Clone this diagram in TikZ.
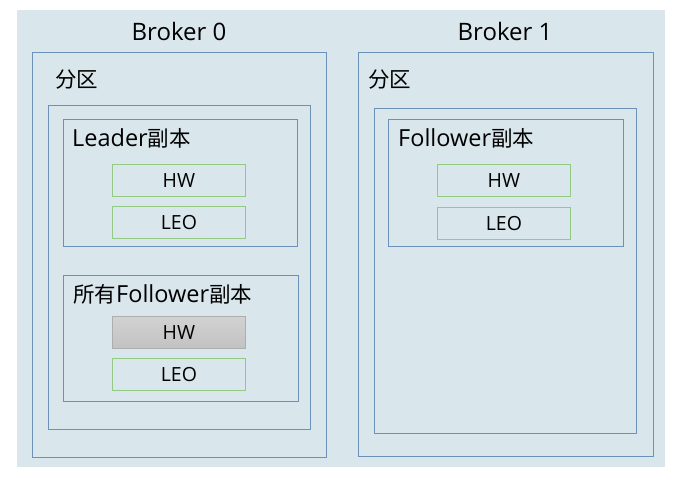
\documentclass[tikz,border=0pt]{standalone}
\usepackage{fontspec}
\newfontfamily\cjk{Noto Sans CJK SC}
\newfontfamily\lat{Open Sans}
\newcommand{\zh}[1]{{\cjk\fontsize{21.5}{21.5}\selectfont #1}}
\definecolor{bgc}{HTML}{D9E6EC}
\definecolor{bluec}{HTML}{6B93B9}
\definecolor{greenc}{HTML}{93C983}
\definecolor{grayt}{HTML}{D2D2D2}
\definecolor{grayb}{HTML}{C2C2C2}
\definecolor{grayl}{HTML}{AEAEAE}
\begin{document}
\begin{tikzpicture}[x=1pt,y=-1pt,
  frame/.style={draw=bluec, line width=0.9pt, inner sep=0pt, anchor=north west},
  field/.style={draw=greenc, line width=0.8pt, inner sep=0pt, anchor=north west,
     minimum width=133pt, minimum height=32pt, font=\lat\fontsize{19.5}{19.5}\selectfont},
  grayfield/.style={field, draw=grayl, top color=grayt, bottom color=grayb},
  title/.style={font=\lat\fontsize{24}{24}\selectfont, inner sep=0pt, anchor=base},
  ltitle/.style={font=\lat\fontsize{23.5}{23.5}\selectfont, inner sep=0pt, anchor=base west}]
\useasboundingbox (0,0) rectangle (694,480);
\fill[white] (0,0) rectangle (694,480);
\node[fill=bgc, inner sep=0pt, anchor=north west, minimum width=648pt, minimum height=457pt] (bg) at (17,10) {};
% Broker 0
\node[frame, minimum width=294pt, minimum height=405pt] (b0) at (32,52) {};
\node[title] (b0t) at (179,40) {Broker 0};
\node[frame, minimum width=262pt, minimum height=324pt] (p0) at (48,105) {};
\node[ltitle] (p0t) at (55,87) {\zh{分区}};
\node[frame, minimum width=234pt, minimum height=127pt] (lead) at (63,119) {};
\node[ltitle] (leadt) at (72,146) {Leader\zh{副本}};
\node[field] (lhw) at (112,164) {HW};
\node[field] (lleo) at (112,206) {LEO};
\node[frame, minimum width=235pt, minimum height=126pt] (allf) at (63,275) {};
\node[ltitle] (allft) at (73,302) {\zh{所有}Follower\zh{副本}};
\node[grayfield] (ahw) at (112,316) {HW};
\node[field] (aleo) at (112,358) {LEO};
% Broker 1
\node[frame, minimum width=295pt, minimum height=404pt] (b1) at (358,52) {};
\node[title] (b1t) at (505,40) {Broker 1};
\node[frame, minimum width=262pt, minimum height=325pt] (p1) at (374,108) {};
\node[ltitle] (p1t) at (368,87) {\zh{分区}};
\node[frame, minimum width=235pt, minimum height=127pt] (fol) at (388,119) {};
\node[ltitle] (folt) at (398,146) {Follower\zh{副本}};
\node[field] (fhw) at (437,164) {HW};
\node[field] (fleo) at (437,207) {LEO};
\end{tikzpicture}
\end{document}
